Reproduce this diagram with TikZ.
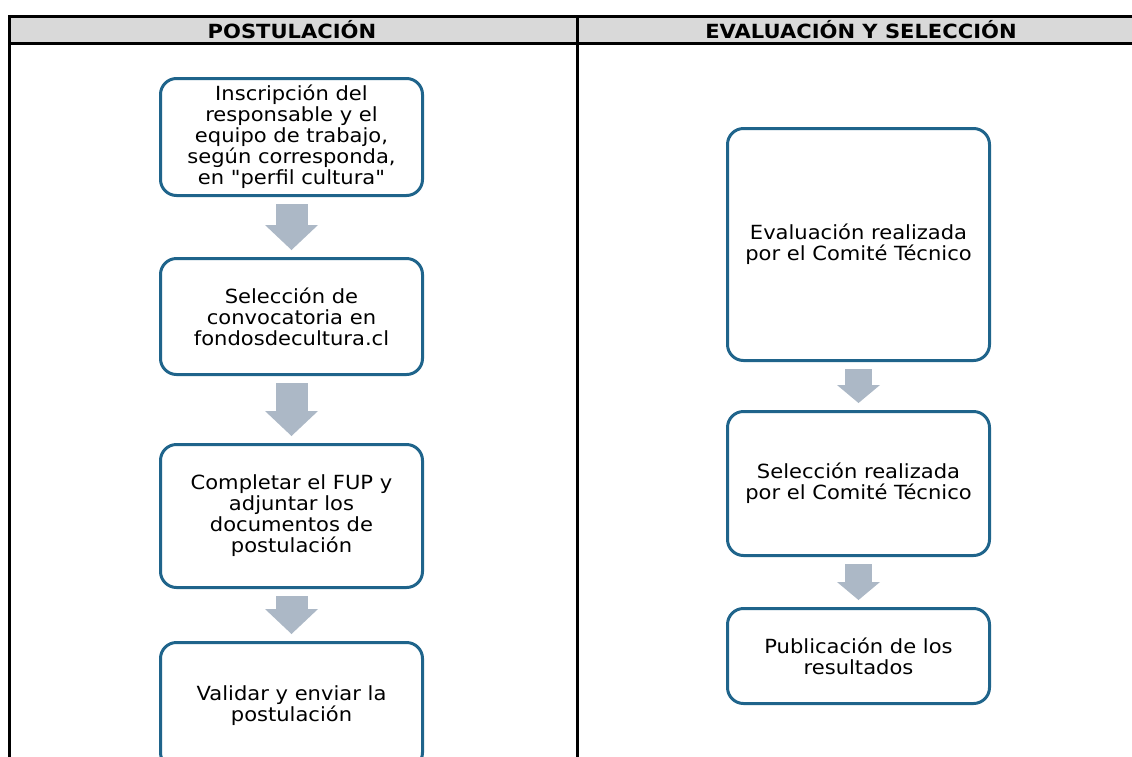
\documentclass[tikz,border=0pt]{standalone}
\usepackage{fontspec}
\setmainfont{DejaVu Sans}[FakeStretch=1.08,Ligatures=TeXOff]
\usetikzlibrary{arrows.meta}
\definecolor{bordeAzul}{RGB}{31,100,139}
\definecolor{flechaGris}{RGB}{172,184,198}
\definecolor{cabecera}{RGB}{217,217,217}

\begin{document}
\begin{tikzpicture}[x=1pt,y=-1pt,
    paso/.style={draw=bordeAzul,line width=3pt,rounded corners=16pt,fill=white,
      align=center,minimum width=262pt,inner sep=2pt,font=\fontsize{19.5}{21}\selectfont},
    flechaGrande/.style={draw=flechaGris,line width=32pt,
      -{Triangle[width=53pt,length=25pt,line width=0pt]},shorten <=7pt,shorten >=7pt},
    flechaChica/.style={draw=flechaGris,line width=27pt,
      -{Triangle[width=43pt,length=18pt,line width=0pt]},shorten <=7pt,shorten >=7pt},
    titulo/.style={font=\fontsize{19.5}{21}\selectfont\bfseries}]

  \useasboundingbox (0,0) rectangle (1132,756);

  % draw the table
  \fill[cabecera] (9,16) rectangle (1150,43);
  \draw[line width=3pt] (9,770) -- (9,16) -- (1150,16);
  \draw[line width=3pt] (9,43) -- (1150,43);
  \draw[line width=3pt] (577,16) -- (577,770);
  \node[titulo] (colPost) at (292,30) {POSTULACIÓN};
  \node[titulo] (colEval) at (861,30) {EVALUACIÓN Y SELECCIÓN};

  % left column steps
  \node[paso,minimum height=117pt] (pInscripcion) at (291.5,137)
    {Inscripción del\\responsable y el\\equipo de trabajo,\\según corresponda,\\en "perfil cultura"};
  \node[paso,minimum height=116pt] (pConvocatoria) at (291.5,316.5)
    {Selección de\\convocatoria en\\fondosdecultura.cl};
  \node[paso,minimum height=143pt] (pCompletar) at (291.5,516)
    {Completar el FUP y\\adjuntar los\\documentos de\\postulación};
  \node[paso,minimum height=126pt] (pValidar) at (291.5,705.5)
    {Validar y enviar la\\postulación};

  % right column steps
  \node[paso,minimum height=232pt] (pEvaluacion) at (858.5,244.5)
    {Evaluación realizada\\por el Comité Técnico};
  \node[paso,minimum height=144pt] (pSeleccion) at (858.5,483.5)
    {Selección realizada\\por el Comité Técnico};
  \node[paso,minimum height=95pt] (pPublicacion) at (858.5,656)
    {Publicación de los\\resultados};

  % draw the block arrows
  \foreach \a/\b in {pInscripcion/pConvocatoria,pConvocatoria/pCompletar,pCompletar/pValidar}
    \draw[flechaGrande] (\a.south) -- (\b.north);
  \foreach \a/\b in {pEvaluacion/pSeleccion,pSeleccion/pPublicacion}
    \draw[flechaChica] (\a.south) -- (\b.north);

\end{tikzpicture}
\end{document}
